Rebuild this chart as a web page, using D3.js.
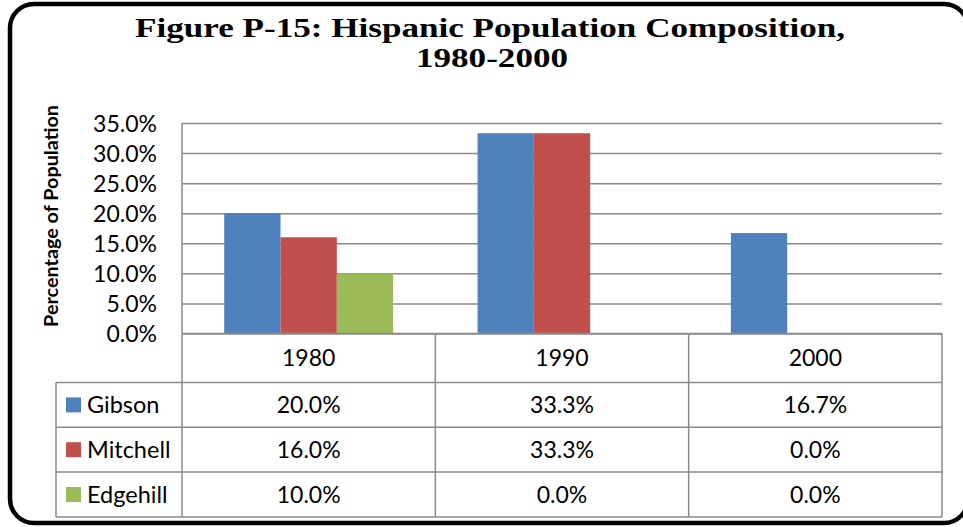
<!DOCTYPE html>
<html>
<head>
<meta charset="utf-8">
<script src="https://cdn.jsdelivr.net/npm/d3@7"></script>
<style>
  html, body { margin: 0; padding: 0; background: #fff; }
  svg { display: block; }
</style>
</head>
<body>
<svg id="chart" width="963" height="527"></svg>
<script>
// ---- data ----
const titleLines = ["Figure P-15: Hispanic Population Composition,", "1980-2000"];
const yAxisTitle = "Percentage of Population";
const categories = ["1980", "1990", "2000"];
const seriesNames = ["Gibson", "Mitchell", "Edgehill"];
const gibson = [20.0, 33.3, 16.7];
const mitchell = [16.0, 33.3, 0.0];
const edgehill = [10.0, 0.0, 0.0];
const yTicks = [0, 5, 10, 15, 20, 25, 30, 35];
const seriesColors = ["#4F81BD", "#C0504D", "#9BBB59"];

const seriesValues = [gibson, mitchell, edgehill];
const series = seriesNames.map((name, i) => ({ name, color: seriesColors[i], values: seriesValues[i] }));

// ---- layout ----
const svg = d3.select("#chart");
const sansFont = "Lato, 'Open Sans', 'Liberation Sans', sans-serif";
const serifFont = "'Liberation Serif', 'DejaVu Serif', serif";
const plot = { left: 182, right: 942, top: 123, bottom: 333.5 };
const gridColor = "#8a8a8a";

// frame
svg.append("rect")
  .attr("x", 10).attr("y", 4)
  .attr("width", 958).attr("height", 519)
  .attr("rx", 24).attr("ry", 24)
  .attr("fill", "#fff").attr("stroke", "#000").attr("stroke-width", 4.5);

function fitWidth(sel, target) {
  const w = sel.node().getComputedTextLength();
  const fs = parseFloat(sel.attr("font-size"));
  sel.attr("font-size", fs * target / w);
}

// title: fixed height, glyphs stretched horizontally to the reference width
const titleSize = 27;
const t1 = svg.append("text")
  .attr("x", 490).attr("y", 37)
  .attr("text-anchor", "middle")
  .attr("font-family", serifFont)
  .attr("font-weight", "bold").attr("font-size", titleSize)
  .text(titleLines[0]);
const w1 = t1.node().getComputedTextLength();
const stretch = 710 / w1;
t1.attr("textLength", 710).attr("lengthAdjust", "spacingAndGlyphs");
const t2 = svg.append("text")
  .attr("x", 492).attr("y", 67)
  .attr("text-anchor", "middle")
  .attr("font-family", serifFont)
  .attr("font-weight", "bold").attr("font-size", titleSize)
  .text(titleLines[1]);
const w2 = t2.node().getComputedTextLength();
t2.attr("textLength", w2 * stretch).attr("lengthAdjust", "spacingAndGlyphs");

// scales
const y = d3.scaleLinear().domain([0, 35]).range([plot.bottom, plot.top]);
const x0 = d3.scaleBand().domain(categories).range([plot.left, plot.right]).padding(0);
const bw = x0.bandwidth();
const barW = bw / (seriesNames.length + 1.5);
const gap = barW * 1.5;
const x1 = d3.scaleBand().domain(seriesNames).range([gap / 2, bw - gap / 2]).padding(0);

// y axis with gridlines
const yAxis = d3.axisLeft(y)
  .tickValues(yTicks)
  .tickSize(-(plot.right - plot.left))
  .tickPadding(25)
  .tickFormat(d => d.toFixed(1) + "%");
const gy = svg.append("g")
  .attr("transform", `translate(${plot.left},0)`)
  .call(yAxis);
gy.select(".domain").remove();
gy.selectAll(".tick line").attr("stroke", gridColor).attr("stroke-width", 1.5);
gy.selectAll(".tick text")
  .attr("font-family", sansFont).attr("font-size", 23).attr("fill", "#000")
  .attr("dy", "0.36em");

// plot left border
svg.append("line")
  .attr("x1", plot.left).attr("x2", plot.left)
  .attr("y1", plot.top).attr("y2", plot.bottom)
  .attr("stroke", gridColor).attr("stroke-width", 1.5);

// bars
const groups = svg.append("g").selectAll("g")
  .data(categories)
  .join("g")
  .attr("transform", d => `translate(${x0(d)},0)`);
groups.selectAll("rect")
  .data((c, ci) => series.map(s => ({ name: s.name, color: s.color, value: s.values[ci] })))
  .join("rect")
  .attr("x", d => x1(d.name))
  .attr("width", x1.bandwidth())
  .attr("y", d => y(d.value))
  .attr("height", d => y(0) - y(d.value))
  .attr("fill", d => d.color);

// redraw baseline over bars
svg.append("line")
  .attr("x1", plot.left).attr("x2", plot.right)
  .attr("y1", y(0)).attr("y2", y(0))
  .attr("stroke", gridColor).attr("stroke-width", 1.5);

// y axis title
const yt = svg.append("text")
  .attr("transform", "translate(58,216) rotate(-90)")
  .attr("text-anchor", "middle")
  .attr("font-family", sansFont)
  .attr("font-weight", "bold").attr("font-size", 17)
  .text(yAxisTitle);
fitWidth(yt, 222);

// ---- data table ----
const headerBottom = 382.5;
const rowH = 44.8;
const legendLeft = 56;
const tableBottom = headerBottom + rowH * series.length;
const tbl = svg.append("g");
const lineStyle = sel => sel.attr("stroke", gridColor).attr("stroke-width", 1.5);

// horizontal lines
d3.range(series.length + 1).forEach(i => {
  const yy = headerBottom + rowH * i;
  tbl.append("line").attr("x1", legendLeft).attr("x2", plot.right)
    .attr("y1", yy).attr("y2", yy).call(lineStyle);
});
// vertical lines
tbl.append("line").attr("x1", legendLeft).attr("x2", legendLeft)
  .attr("y1", headerBottom).attr("y2", tableBottom).call(lineStyle);
tbl.append("line").attr("x1", plot.left).attr("x2", plot.left)
  .attr("y1", plot.bottom).attr("y2", tableBottom).call(lineStyle);
categories.forEach(c => {
  const xx = x0(c) + bw;
  tbl.append("line").attr("x1", xx).attr("x2", xx)
    .attr("y1", plot.bottom).attr("y2", tableBottom).call(lineStyle);
});

// header labels
tbl.selectAll("text.cat")
  .data(categories)
  .join("text")
  .attr("class", "cat")
  .attr("x", d => x0(d) + bw / 2)
  .attr("y", (plot.bottom + headerBottom) / 2)
  .attr("dy", "0.36em")
  .attr("text-anchor", "middle")
  .attr("font-family", sansFont).attr("font-size", 23)
  .text(d => d);

// rows
series.forEach((s, i) => {
  const cy = headerBottom + rowH * i + rowH / 2;
  tbl.append("rect")
    .attr("x", 66).attr("y", cy - 7.5)
    .attr("width", 15).attr("height", 15)
    .attr("fill", s.color);
  tbl.append("text")
    .attr("x", 87).attr("y", cy).attr("dy", "0.36em")
    .attr("font-family", sansFont).attr("font-size", 23.5)
    .text(s.name);
  categories.forEach((c, ci) => {
    tbl.append("text")
      .attr("x", x0(c) + bw / 2).attr("y", cy).attr("dy", "0.36em")
      .attr("text-anchor", "middle")
      .attr("font-family", sansFont).attr("font-size", 23)
      .text(s.values[ci].toFixed(1) + "%");
  });
});
</script>
</body>
</html>
